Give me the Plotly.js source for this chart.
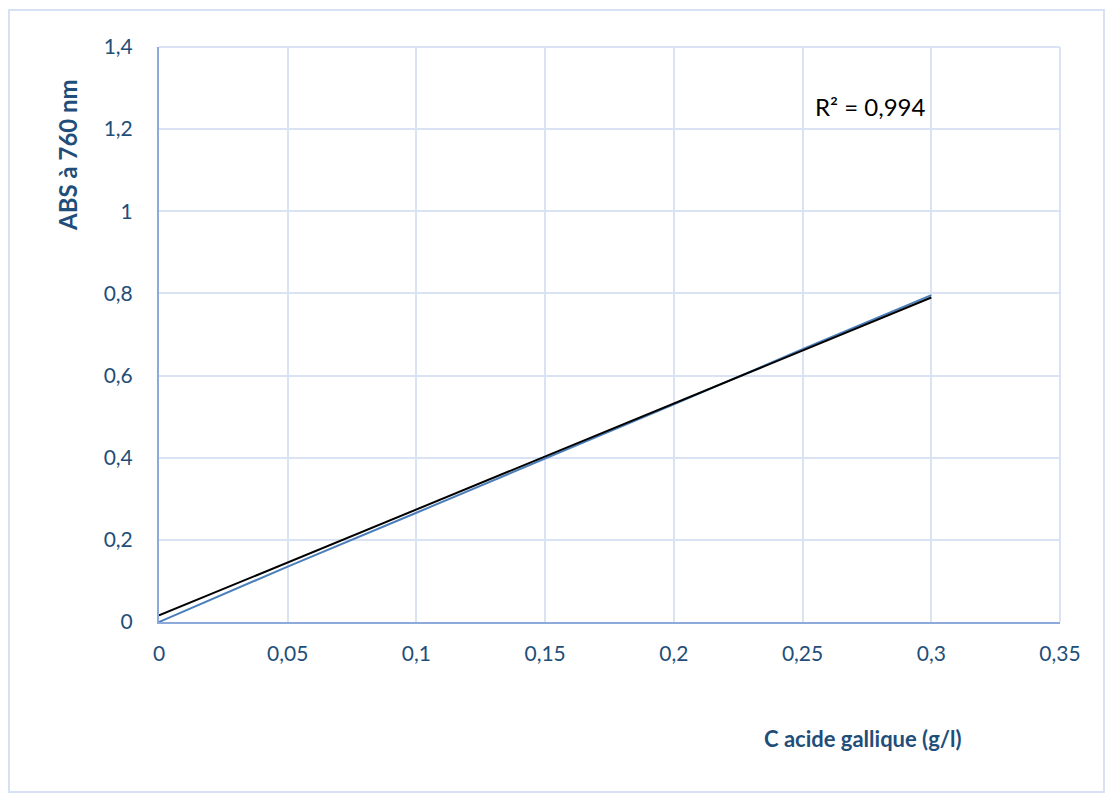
<!DOCTYPE html>
<html>
<head>
<meta charset="utf-8">
<script src="https://cdn.plot.ly/plotly-3.0.1.min.js"></script>
<style>html,body{margin:0;padding:0;background:#fff;}#chart{width:1110px;height:800px;}</style>
</head>
<body>
<div id="chart"></div>
<script>
const concentration = [0, 0.05, 0.1, 0.15, 0.2, 0.25, 0.3];
const absorbance = [0, 0.135, 0.266, 0.398, 0.530, 0.664, 0.796];
const trendX = [0, 0.3];
const trendY = [0.016, 0.790];
const r2Label = "R² = 0,994";
const xTitle = "C acide gallique (g/l)";
const yTitle = "ABS à 760 nm";

const fontFam = "Lato, 'Open Sans', sans-serif";
const tickColor = "#1f4e79";
const data = [
  {x: concentration, y: absorbance, type: 'scatter', mode: 'lines',
   line: {color: '#4a7ebb', width: 2}, showlegend: false, hoverinfo: 'skip'},
  {x: trendX, y: trendY, type: 'scatter', mode: 'lines',
   line: {color: '#000000', width: 2}, showlegend: false, hoverinfo: 'skip'}
];
const layout = {
  width: 1110, height: 800,
  margin: {l: 159, r: 50, t: 47, b: 178},
  paper_bgcolor: '#ffffff', plot_bgcolor: '#ffffff',
  separators: ', ',
  font: {family: fontFam, color: tickColor, size: 21},
  xaxis: {range: [0, 0.35], dtick: 0.05, tick0: 0, showgrid: true, gridcolor: '#d9e3f3', gridwidth: 2,
    zeroline: false, showline: true, linecolor: '#8eaadb', linewidth: 2, mirror: false,
    ticks: '', ticklen: 0, ticklabelstandoff: 12, tickfont: {size: 21, color: tickColor, family: fontFam}},
  yaxis: {range: [0, 1.4], dtick: 0.2, tick0: 0, showgrid: true, gridcolor: '#d9e3f3', gridwidth: 2,
    zeroline: false, showline: true, linecolor: '#8eaadb', linewidth: 2,
    ticks: '', ticklen: 0, ticklabelstandoff: 20, tickfont: {size: 21, color: tickColor, family: fontFam}},
  shapes: [
    {type: 'rect', xref: 'paper', yref: 'paper', x0: -0.1665, x1: 1.0488, y0: -0.2957, y1: 1.0643,
     line: {color: '#d6e2f3', width: 2}, fillcolor: 'rgba(0,0,0,0)', layer: 'below'},
    {type: 'line', xref: 'paper', yref: 'paper', x0: 1, x1: 1, y0: 0, y1: 1, line: {color: '#d9e3f3', width: 2}, layer: 'below'},
    {type: 'line', xref: 'paper', yref: 'paper', x0: 0, x1: 1, y0: 1, y1: 1, line: {color: '#d9e3f3', width: 2}, layer: 'below'}
  ],
  annotations: [
    {text: r2Label, xref: 'x', yref: 'y', x: 0.2762, y: 1.255, xanchor: 'center', yanchor: 'middle', showarrow: false,
     font: {size: 24, color: '#000000', family: fontFam}},
    {text: '<b>' + xTitle + '</b>', xref: 'paper', yref: 'paper', x: (863 - 159) / 901, y: (622 - 738) / 575,
     xanchor: 'center', yanchor: 'middle', showarrow: false, font: {size: 22, color: tickColor, family: fontFam}},
    {text: '<b>' + yTitle + '</b>', xref: 'paper', yref: 'paper', x: (68 - 159) / 901, y: (622 - 155) / 575,
     xanchor: 'center', yanchor: 'middle', textangle: -90, showarrow: false, font: {size: 24, color: tickColor, family: fontFam}}
  ]
};
Plotly.newPlot('chart', data, layout, {staticPlot: true, displayModeBar: false});
</script>
</body>
</html>
